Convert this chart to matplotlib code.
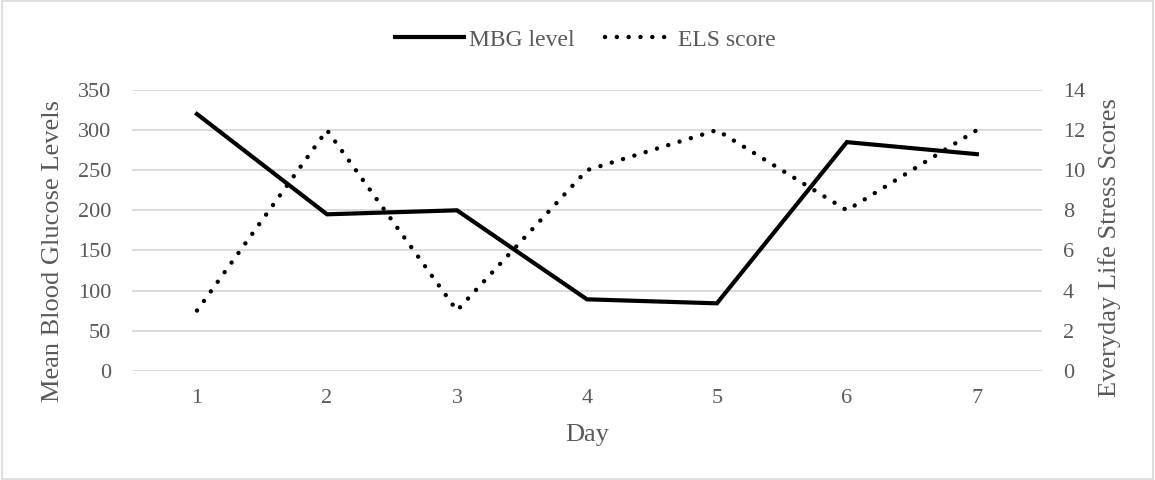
import matplotlib.pyplot as plt
from matplotlib.patches import Rectangle

days = [1, 2, 3, 4, 5, 6, 7]
mbg_level = [320, 195, 200, 89, 84, 285, 270]
els_score = [3, 12, 3, 10, 12, 8, 12]

GREY = "#595959"
GRID = "#d9d9d9"

plt.rcParams["font.family"] = ["Liberation Serif", "DejaVu Serif"]

fig = plt.figure(figsize=(11.55, 4.8), dpi=100)
ax = fig.add_axes([0.1143, 0.2277, 0.7877, 0.5848])
ax2 = ax.twinx()

l1, = ax.plot(days, mbg_level, color="black", lw=3.0, solid_joinstyle="miter",
              label="MBG level", zorder=3)
l2, = ax2.plot(days, els_score, color="black", lw=3.2, linestyle=(0, (0.01, 2.65)),
               dash_capstyle="round", label="ELS score", zorder=3)

ax.set_xlim(0.5, 7.5)
ax.set_ylim(0, 350)
ax.set_yticks(range(0, 351, 50))
ax2.set_ylim(0, 14)
ax2.set_yticks(range(0, 15, 2))
ax.set_xticks(days)

ax.yaxis.grid(True, color=GRID, lw=1.3)
ax.set_axisbelow(True)
for a in (ax, ax2):
    for s in a.spines.values():
        s.set_visible(False)
    a.tick_params(length=0, labelsize=16, colors=GREY)
ax.tick_params(axis="x", pad=13)
ax.tick_params(axis="y", pad=15)
ax2.tick_params(axis="y", pad=15)

# axis titles
fig.text(587 / 1155, 1 - 435 / 480, "Day", fontsize=19, color=GREY,
         ha="center", va="center")
fig.text(53 / 1155, 1 - 251 / 480, "Mean Blood Glucose Levels", fontsize=19,
         color=GREY, ha="center", va="center", rotation=90)
fig.text(1110 / 1155, 1 - 248 / 480, "Everyday Life Stress Scores", fontsize=19,
         color=GREY, ha="center", va="center", rotation=90)

fig.legend(handles=[l1, l2], loc="center", bbox_to_anchor=(0.507, 0.917), ncol=2,
           frameon=False, fontsize=17, handlelength=2.9, columnspacing=1.3,
           handletextpad=0.2, labelcolor=GREY)

fig.patches.append(Rectangle((0.002, 0.003), 0.996, 0.994, transform=fig.transFigure,
                             fill=False, edgecolor="#d9d9d9", lw=1.2))

fig.savefig("out.png", dpi=100, facecolor="white")
